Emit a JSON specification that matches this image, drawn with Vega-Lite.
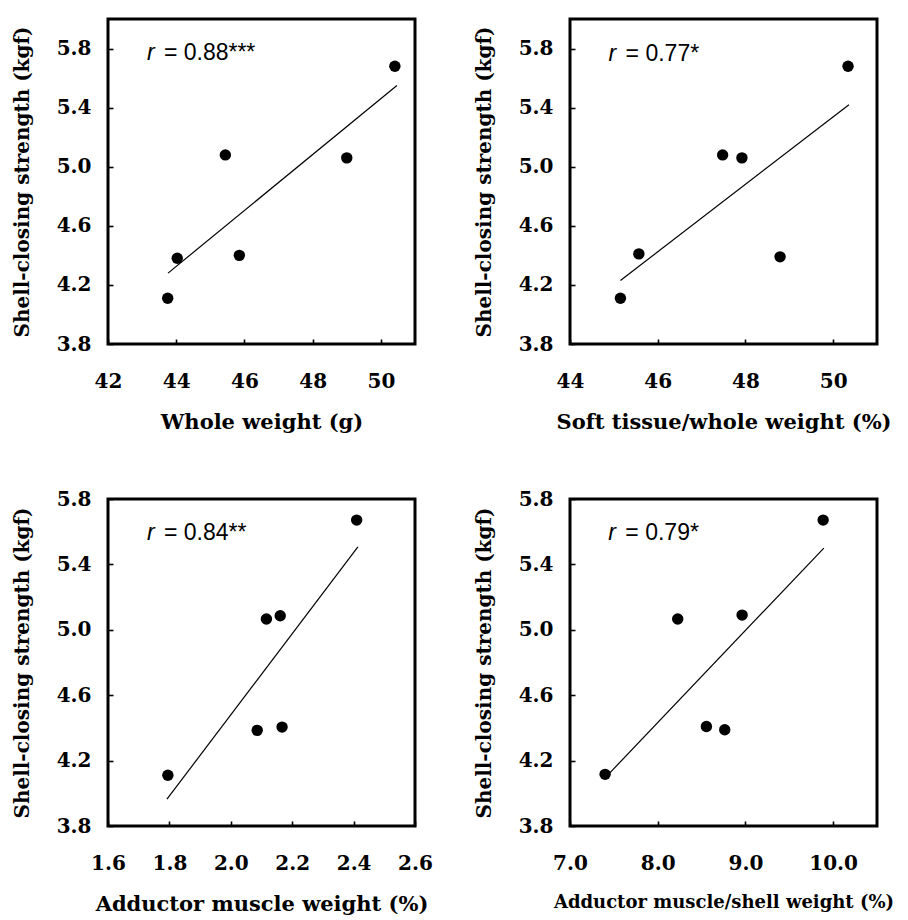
{
  "$schema": "https://vega.github.io/schema/vega-lite/v6.json",
  "background": "white",
  "padding": {"left": 10, "top": 17, "right": 5, "bottom": 5},
  "config": {
    "view": {"stroke": "black", "strokeWidth": 3},
    "axis": {
      "grid": false, "domain": false, "ticks": true, "tickSize": -5, "tickColor": "black", "tickWidth": 1.6,
      "labelFont": "DejaVu Serif", "labelFontWeight": "bold", "labelFontSize": 20, "labelColor": "black",
      "titleFont": "DejaVu Serif", "titleFontWeight": "bold", "titleFontSize": 20, "titleColor": "black",
      "labelFlush": false, "labelOverlap": false
    },
    "axisX": {"labelPadding": 32, "titlePadding": 20, "titleFontSize": 21},
    "axisY": {"labelPadding": 22, "titlePadding": 24}
  },
  "datasets": {
    "p1": [{"x": 43.75, "y": 4.11}, {"x": 44.03, "y": 4.38}, {"x": 45.44, "y": 5.08}, {"x": 45.85, "y": 4.40}, {"x": 49.0, "y": 5.06}, {"x": 50.41, "y": 5.68}],
    "l1": [{"x": 43.76, "y": 4.28}, {"x": 50.47, "y": 5.55}],
    "t1": [{"r": "r", "stat": "= 0.88***"}],
    "p2": [{"x": 45.15, "y": 4.11}, {"x": 45.57, "y": 4.41}, {"x": 47.48, "y": 5.08}, {"x": 47.92, "y": 5.06}, {"x": 48.79, "y": 4.39}, {"x": 50.34, "y": 5.68}],
    "l2": [{"x": 45.15, "y": 4.23}, {"x": 50.36, "y": 5.42}],
    "t2": [{"r": "r", "stat": "= 0.77*"}],
    "p3": [{"x": 1.795, "y": 4.11}, {"x": 2.086, "y": 4.385}, {"x": 2.116, "y": 5.066}, {"x": 2.161, "y": 5.086}, {"x": 2.167, "y": 4.405}, {"x": 2.41, "y": 5.671}],
    "l3": [{"x": 1.792, "y": 3.964}, {"x": 2.414, "y": 5.507}],
    "t3": [{"r": "r", "stat": "= 0.84**"}],
    "p4": [{"x": 7.40, "y": 4.116}, {"x": 8.228, "y": 5.066}, {"x": 8.555, "y": 4.409}, {"x": 8.764, "y": 4.389}, {"x": 8.962, "y": 5.09}, {"x": 9.886, "y": 5.671}],
    "l4": [{"x": 7.449, "y": 4.122}, {"x": 9.894, "y": 5.50}],
    "t4": [{"r": "r", "stat": "= 0.79*"}]
  },
  "columns": 2,
  "spacing": {"row": 53, "column": 38},
  "concat": [
    {
      "width": 307, "height": 325,
      "layer": [
        {"data": {"name": "p1"}, "mark": {"type": "point", "shape": "circle", "filled": true, "size": 130, "color": "black", "opacity": 1},
         "encoding": {
           "x": {"field": "x", "type": "quantitative", "scale": {"domain": [42, 51], "nice": false, "zero": false}, "axis": {"values": [42, 44, 46, 48, 50], "format": "d", "title": "Whole weight (g)"}},
           "y": {"field": "y", "type": "quantitative", "scale": {"domain": [3.8, 6.0], "nice": false, "zero": false}, "axis": {"values": [3.8, 4.2, 4.6, 5.0, 5.4, 5.8], "format": ".1f", "title": "Shell-closing strength (kgf)"}}
         }},
        {"data": {"name": "l1"}, "mark": {"type": "line", "color": "black", "strokeWidth": 1.2},
         "encoding": {
           "x": {"field": "x", "type": "quantitative", "scale": {"domain": [42, 51], "nice": false, "zero": false}},
           "y": {"field": "y", "type": "quantitative", "scale": {"domain": [3.8, 6.0], "nice": false, "zero": false}}
         }},
        {"data": {"name": "t1"}, "mark": {"type": "text", "font": "Liberation Sans", "fontSize": 23, "fontStyle": "italic", "align": "left", "baseline": "alphabetic", "color": "black"},
         "encoding": {
           "x": {"datum": 43.14, "type": "quantitative", "scale": {"domain": [42, 51], "nice": false, "zero": false}},
           "y": {"datum": 5.72, "type": "quantitative", "scale": {"domain": [3.8, 6.0], "nice": false, "zero": false}},
           "text": {"field": "r"}
         }},
        {"data": {"name": "t1"}, "mark": {"type": "text", "font": "Liberation Sans", "fontSize": 23, "align": "left", "baseline": "alphabetic", "color": "black", "dx": 17},
         "encoding": {
           "x": {"datum": 43.14, "type": "quantitative", "scale": {"domain": [42, 51], "nice": false, "zero": false}},
           "y": {"datum": 5.72, "type": "quantitative", "scale": {"domain": [3.8, 6.0], "nice": false, "zero": false}},
           "text": {"field": "stat"}
         }}
      ]
    },
    {
      "width": 307, "height": 325,
      "layer": [
        {"data": {"name": "p2"}, "mark": {"type": "point", "shape": "circle", "filled": true, "size": 130, "color": "black", "opacity": 1},
         "encoding": {
           "x": {"field": "x", "type": "quantitative", "scale": {"domain": [44, 51], "nice": false, "zero": false}, "axis": {"values": [44, 46, 48, 50], "format": "d", "title": "Soft tissue/whole weight (%)"}},
           "y": {"field": "y", "type": "quantitative", "scale": {"domain": [3.8, 6.0], "nice": false, "zero": false}, "axis": {"values": [3.8, 4.2, 4.6, 5.0, 5.4, 5.8], "format": ".1f", "title": "Shell-closing strength (kgf)"}}
         }},
        {"data": {"name": "l2"}, "mark": {"type": "line", "color": "black", "strokeWidth": 1.2},
         "encoding": {
           "x": {"field": "x", "type": "quantitative", "scale": {"domain": [44, 51], "nice": false, "zero": false}},
           "y": {"field": "y", "type": "quantitative", "scale": {"domain": [3.8, 6.0], "nice": false, "zero": false}}
         }},
        {"data": {"name": "t2"}, "mark": {"type": "text", "font": "Liberation Sans", "fontSize": 23, "fontStyle": "italic", "align": "left", "baseline": "alphabetic", "color": "black"},
         "encoding": {
           "x": {"datum": 44.88, "type": "quantitative", "scale": {"domain": [44, 51], "nice": false, "zero": false}},
           "y": {"datum": 5.715, "type": "quantitative", "scale": {"domain": [3.8, 6.0], "nice": false, "zero": false}},
           "text": {"field": "r"}
         }},
        {"data": {"name": "t2"}, "mark": {"type": "text", "font": "Liberation Sans", "fontSize": 23, "align": "left", "baseline": "alphabetic", "color": "black", "dx": 17},
         "encoding": {
           "x": {"datum": 44.88, "type": "quantitative", "scale": {"domain": [44, 51], "nice": false, "zero": false}},
           "y": {"datum": 5.715, "type": "quantitative", "scale": {"domain": [3.8, 6.0], "nice": false, "zero": false}},
           "text": {"field": "stat"}
         }}
      ]
    },
    {
      "width": 307, "height": 327,
      "layer": [
        {"data": {"name": "p3"}, "mark": {"type": "point", "shape": "circle", "filled": true, "size": 130, "color": "black", "opacity": 1},
         "encoding": {
           "x": {"field": "x", "type": "quantitative", "scale": {"domain": [1.6, 2.6], "nice": false, "zero": false}, "axis": {"values": [1.6, 1.8, 2.0, 2.2, 2.4, 2.6], "format": ".1f", "title": "Adductor muscle weight (%)"}},
           "y": {"field": "y", "type": "quantitative", "scale": {"domain": [3.8, 5.8], "nice": false, "zero": false}, "axis": {"values": [3.8, 4.2, 4.6, 5.0, 5.4, 5.8], "format": ".1f", "title": "Shell-closing strength (kgf)"}}
         }},
        {"data": {"name": "l3"}, "mark": {"type": "line", "color": "black", "strokeWidth": 1.2},
         "encoding": {
           "x": {"field": "x", "type": "quantitative", "scale": {"domain": [1.6, 2.6], "nice": false, "zero": false}},
           "y": {"field": "y", "type": "quantitative", "scale": {"domain": [3.8, 5.8], "nice": false, "zero": false}}
         }},
        {"data": {"name": "t3"}, "mark": {"type": "text", "font": "Liberation Sans", "fontSize": 23, "fontStyle": "italic", "align": "left", "baseline": "alphabetic", "color": "black"},
         "encoding": {
           "x": {"datum": 1.727, "type": "quantitative", "scale": {"domain": [1.6, 2.6], "nice": false, "zero": false}},
           "y": {"datum": 5.55, "type": "quantitative", "scale": {"domain": [3.8, 5.8], "nice": false, "zero": false}},
           "text": {"field": "r"}
         }},
        {"data": {"name": "t3"}, "mark": {"type": "text", "font": "Liberation Sans", "fontSize": 23, "align": "left", "baseline": "alphabetic", "color": "black", "dx": 17},
         "encoding": {
           "x": {"datum": 1.727, "type": "quantitative", "scale": {"domain": [1.6, 2.6], "nice": false, "zero": false}},
           "y": {"datum": 5.55, "type": "quantitative", "scale": {"domain": [3.8, 5.8], "nice": false, "zero": false}},
           "text": {"field": "stat"}
         }}
      ]
    },
    {
      "width": 307, "height": 327,
      "layer": [
        {"data": {"name": "p4"}, "mark": {"type": "point", "shape": "circle", "filled": true, "size": 130, "color": "black", "opacity": 1},
         "encoding": {
           "x": {"field": "x", "type": "quantitative", "scale": {"domain": [7.0, 10.5], "nice": false, "zero": false}, "axis": {"values": [7, 8, 9, 10], "format": ".1f", "title": "Adductor muscle/shell weight (%)", "titleFontSize": 18}},
           "y": {"field": "y", "type": "quantitative", "scale": {"domain": [3.8, 5.8], "nice": false, "zero": false}, "axis": {"values": [3.8, 4.2, 4.6, 5.0, 5.4, 5.8], "format": ".1f", "title": "Shell-closing strength (kgf)"}}
         }},
        {"data": {"name": "l4"}, "mark": {"type": "line", "color": "black", "strokeWidth": 1.2},
         "encoding": {
           "x": {"field": "x", "type": "quantitative", "scale": {"domain": [7.0, 10.5], "nice": false, "zero": false}},
           "y": {"field": "y", "type": "quantitative", "scale": {"domain": [3.8, 5.8], "nice": false, "zero": false}}
         }},
        {"data": {"name": "t4"}, "mark": {"type": "text", "font": "Liberation Sans", "fontSize": 23, "fontStyle": "italic", "align": "left", "baseline": "alphabetic", "color": "black"},
         "encoding": {
           "x": {"datum": 7.437, "type": "quantitative", "scale": {"domain": [7.0, 10.5], "nice": false, "zero": false}},
           "y": {"datum": 5.55, "type": "quantitative", "scale": {"domain": [3.8, 5.8], "nice": false, "zero": false}},
           "text": {"field": "r"}
         }},
        {"data": {"name": "t4"}, "mark": {"type": "text", "font": "Liberation Sans", "fontSize": 23, "align": "left", "baseline": "alphabetic", "color": "black", "dx": 17},
         "encoding": {
           "x": {"datum": 7.437, "type": "quantitative", "scale": {"domain": [7.0, 10.5], "nice": false, "zero": false}},
           "y": {"datum": 5.55, "type": "quantitative", "scale": {"domain": [3.8, 5.8], "nice": false, "zero": false}},
           "text": {"field": "stat"}
         }}
      ]
    }
  ]
}
